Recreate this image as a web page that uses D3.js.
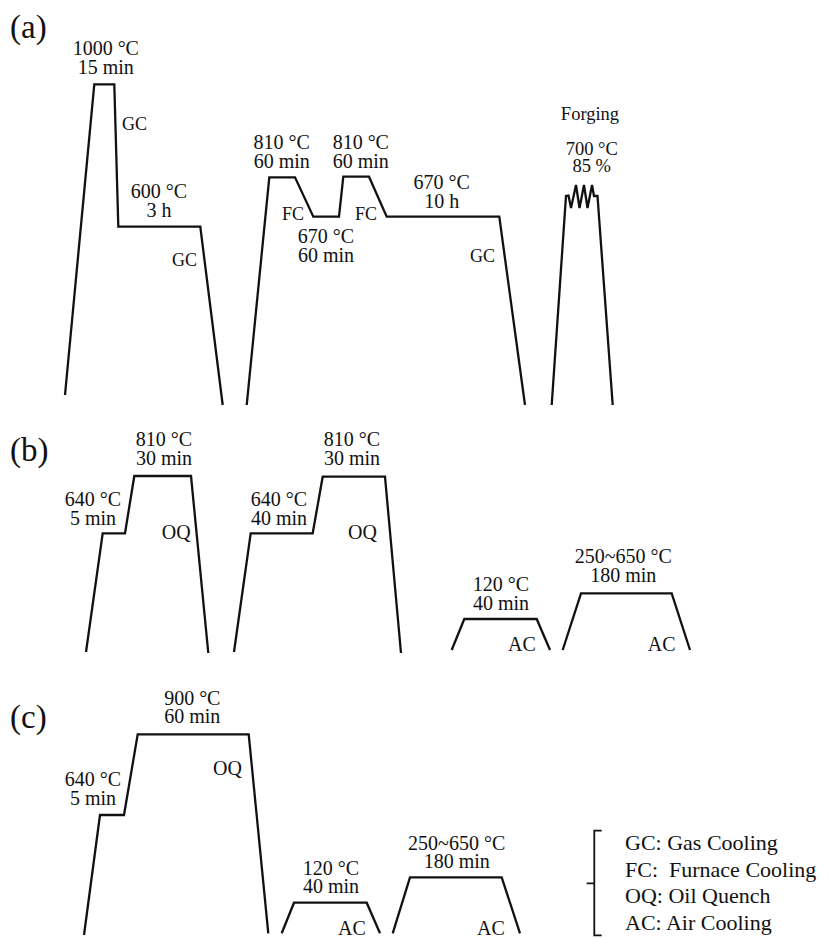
<!DOCTYPE html>
<head>
  <title>Heat treatment routes</title>
  <meta charset="UTF-8">
  <script src="https://d3js.org/d3.v7.min.js"></script>
  <style>
    body { margin: 0; background: #fff; }
    text { font-family: "Liberation Serif", "Times New Roman", serif; fill: #111; white-space: pre; }
  </style>
</head>
<body>
<svg id="mainplot"></svg>
<script>
    // panels
    const panelNames = ["(a)", "(b)", "(c)"];

    // temperature-time routes: schematic time (x) and level above the panel floor (h)
    const a1Time = [65, 94.3, 114.3, 118.3, 200.3, 222.7];
    const a1Level = [10, 320.7, 320.7, 178.3, 178.3, 0];
    const a2Time = [246.7, 269.3, 295, 313.3, 339, 343.3, 369, 386.7, 499.3, 525];
    const a2Level = [0, 227.7, 227.7, 188.3, 188.3, 228.3, 228.3, 188.3, 188.3, 0];
    const a3Time = [551.7, 566, 568.5, 571, 576, 579.5, 584, 587.5, 592, 594, 597.5, 612.7];
    const a3Level = [0, 209, 209.5, 197, 220, 197, 220, 197, 220, 209, 209, 0];

    const b1Time = [86, 102.7, 125, 134.3, 191, 208.3];
    const b1Level = [0, 118.7, 118.7, 176, 176, -1];
    const b2Time = [234, 250.7, 312.7, 322.7, 385, 401];
    const b2Level = [0, 118.7, 118.7, 175.3, 175.3, -1];
    const b3Time = [451.7, 464.3, 536.7, 550];
    const b3Level = [2, 33, 33, 2];
    const b4Time = [562.7, 581, 671.7, 690];
    const b4Level = [2, 58.7, 58.7, 2];

    const c1Time = [84, 100, 124, 137.7, 248.7, 268.3];
    const c1Level = [-1, 119, 119, 199.7, 199.7, 0.7];
    const c2Time = [281.7, 294, 366.7, 380];
    const c2Level = [0.7, 31.3, 31.3, 0.7];
    const c3Time = [392.7, 410, 501.7, 520];
    const c3Level = [0.7, 56.7, 56.7, 0.7];

    const routes = [
      [0, a1Time, a1Level], [0, a2Time, a2Level], [0, a3Time, a3Level],
      [1, b1Time, b1Level], [1, b2Time, b2Level], [1, b3Time, b3Level], [1, b4Time, b4Level],
      [2, c1Time, c1Level], [2, c2Time, c2Level], [2, c3Time, c3Level]
    ];

    // hold labels: panel, time, level of last line, text lines
    const holdPanel = [0, 0, 0, 0, 0, 0, 1, 1, 1, 1, 1, 1, 2, 2, 2, 2];
    const holdTime = [105.8, 159, 281.7, 360.8, 326, 441.7, 93, 164, 279, 352, 501, 623.3, 93, 192.3, 331, 456.7];
    const holdLevel = [331, 188, 237.5, 237.5, 143, 197, 127, 187, 127, 187, 42, 70.3, 129, 210.7, 40.7, 65.7];
    const holdText = [
      ["1000 °C", "15 min"], ["600 °C", "3 h"], ["810 °C", "60 min"], ["810 °C", "60 min"],
      ["670 °C", "60 min"], ["670 °C", "10 h"],
      ["640 °C", "5 min"], ["810 °C", "30 min"], ["640 °C", "40 min"], ["810 °C", "30 min"],
      ["120 °C", "40 min"], ["250~650 °C", "180 min"],
      ["640 °C", "5 min"], ["900 °C", "60 min"], ["120 °C", "40 min"], ["250~650 °C", "180 min"]
    ];

    // forging labels
    const forgeTime = [590, 591.7];
    const forgeLevel = [285, 233.3];
    const forgeText = [["Forging"], ["700 °C", "85 %"]];

    // cooling labels
    const coolPanel = [0, 0, 0, 0, 0, 1, 1, 1, 1, 2, 2, 2];
    const coolTime = [122, 172, 282, 355, 470, 161.7, 348, 508, 647.7, 213, 338, 477];
    const coolLevel = [275, 139, 185, 185, 143, 113, 113, 1, 1, 159, -1, -1];
    const coolText = ["GC", "GC", "FC", "FC", "GC", "OQ", "OQ", "AC", "AC", "OQ", "AC", "AC"];

    // legend
    const legendText = ["GC: Gas Cooling", "FC:  Furnace Cooling", "OQ: Oil Quench", "AC: Air Cooling"];

    const width = 829, height = 938;
    const panelFloor = [405, 652, 934];
    const panelLabelY = [37.5, 461, 727.5];

    const svg = d3.select("#mainplot")
        .attr("width", width)
        .attr("height", height);

    const x = d3.scaleLinear().domain([0, width]).range([0, width]);
    const y = panelFloor.map(f => d3.scaleLinear().domain([0, 400]).range([f, f - 400]));

    // panel letters
    svg.selectAll(".panel")
      .data(panelNames)
      .enter()
      .append("text")
        .attr("class", "panel")
        .attr("x", 10)
        .attr("y", (d, i) => panelLabelY[i])
        .style("font-size", "33px")
        .text(d => d);

    // routes
    routes.forEach(r => {
      const yy = y[r[0]];
      const pts = r[1].map((t, i) => [t, r[2][i]]);
      const line = d3.line().x(d => x(d[0])).y(d => yy(d[1]));
      svg.append("path")
        .attr("d", line(pts))
        .attr("fill", "none")
        .attr("stroke", "#111")
        .attr("stroke-width", 2.3)
        .attr("stroke-linejoin", "miter");
    });

    // stacked labels, last line at given level
    function stacked(tx, base, lines, size, gap) {
      const g = svg.append("text")
        .attr("text-anchor", "middle")
        .style("font-size", size + "px");
      lines.forEach((s, k) => {
        g.append("tspan")
          .attr("x", tx)
          .attr("y", base - (lines.length - 1 - k) * gap)
          .text(s);
      });
    }

    holdText.forEach((lines, i) => {
      stacked(x(holdTime[i]), y[holdPanel[i]](holdLevel[i]), lines, 20, 18.8);
    });

    forgeText.forEach((lines, i) => {
      stacked(x(forgeTime[i]), y[0](forgeLevel[i]), lines, 18.5, 16.8);
    });

    svg.selectAll(".cool")
      .data(coolText)
      .enter()
      .append("text")
        .attr("class", "cool")
        .attr("x", (d, i) => x(coolTime[i]))
        .attr("y", (d, i) => y[coolPanel[i]](coolLevel[i]))
        .style("font-size", d => (d == "GC" || d == "FC") ? "18px" : "20px")
        .text(d => d);

    // legend with bracket
    const lg = svg.append("g");
    lg.append("path")
      .attr("d", "M601.7,830.7 H594.3 V935.3 H601.7 M594.3,883.3 H586.7")
      .attr("fill", "none")
      .attr("stroke", "#111")
      .attr("stroke-width", 1.8);
    lg.selectAll("text")
      .data(legendText)
      .enter()
      .append("text")
        .attr("x", 625)
        .attr("y", (d, i) => 850 + i * 26.5)
        .style("font-size", "22px")
        .text(d => d);
</script>
</body>
